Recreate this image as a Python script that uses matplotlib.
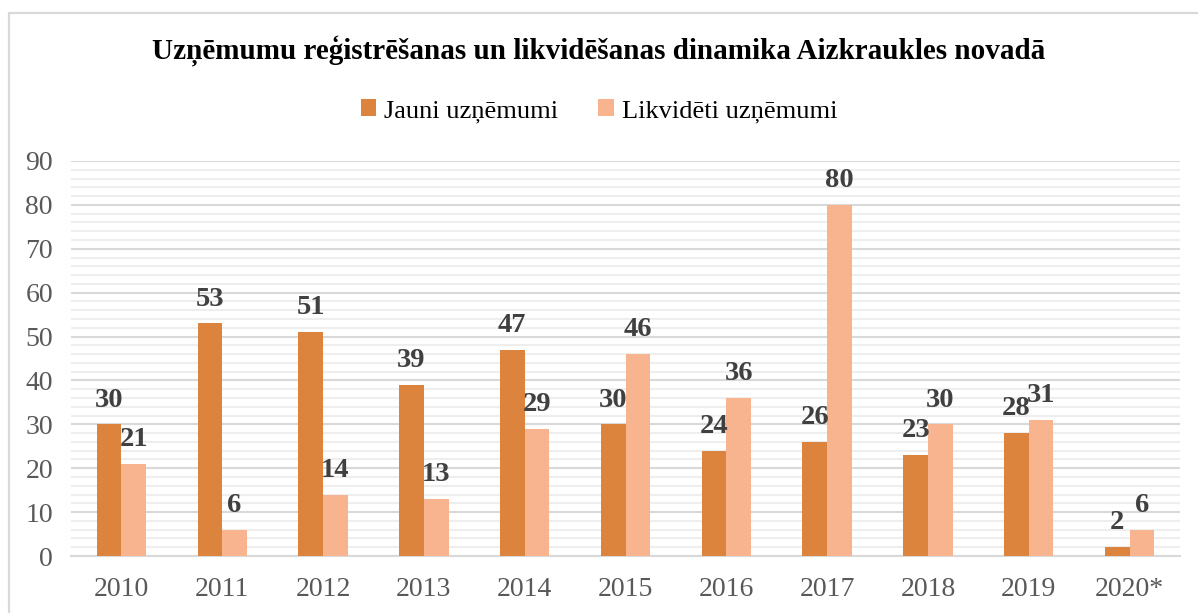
import matplotlib.pyplot as plt
from matplotlib.ticker import MultipleLocator
from matplotlib.patches import Rectangle
import numpy as np

years = ['2010', '2011', '2012', '2013', '2014', '2015', '2016', '2017', '2018', '2019', '2020*']
jauni = [30, 53, 51, 39, 47, 30, 24, 26, 23, 28, 2]
likvideti = [21, 6, 14, 13, 29, 46, 36, 80, 30, 31, 6]

c_dark = '#DC843E'
c_light = '#F8B48E'
txt = '#404040'

plt.rcParams['font.family'] = ['Liberation Serif', 'DejaVu Serif']

fig = plt.figure(figsize=(11.98, 6.13), dpi=100)
# light grey chart-area frame (cut off at the right and bottom edges of the image)
fig.patches.append(Rectangle((9 / 1198, -0.01), 1.02, 1.01 - 13 / 613, transform=fig.transFigure,
                             fill=False, edgecolor='#D9D9D9', linewidth=1.6))
ax = fig.add_axes([71 / 1198, 57 / 613, (1180 - 71) / 1198, (556 - 161) / 613])

x = np.arange(len(years))
w = 0.245
b1 = ax.bar(x - w / 2, jauni, w, color=c_dark, label='Jauni uzņēmumi', zorder=3)
b2 = ax.bar(x + w / 2, likvideti, w, color=c_light, label='Likvidēti uzņēmumi', zorder=3)

# data labels above bars
for bars, vals in ((b1, jauni), (b2, likvideti)):
    for r, v in zip(bars, vals):
        ax.annotate(str(v), (r.get_x() + r.get_width() / 2, v), xytext=(0, 17.5),
                    textcoords='offset points', ha='center', va='center',
                    fontsize=20.5, fontweight='bold', color=txt)

ax.set_xlim(-0.5, len(years) - 0.5)
ax.set_ylim(0, 90)
ax.yaxis.set_major_locator(MultipleLocator(10))
ax.yaxis.set_minor_locator(MultipleLocator(2))
ax.grid(axis='y', which='major', color='#D9D9D9', linewidth=1.5, zorder=0)
ax.grid(axis='y', which='minor', color='#EEEEEE', linewidth=1.5, zorder=0)
ax.set_xticks(x)
ax.set_xticklabels(years)
ax.tick_params(axis='both', which='both', length=0, labelsize=20, labelcolor='#595959')
ax.tick_params(axis='y', pad=13)
ax.tick_params(axis='x', pad=15)
for s in ['top', 'right', 'left']:
    ax.spines[s].set_visible(False)
ax.spines['bottom'].set_color('#D9D9D9')
ax.spines['bottom'].set_linewidth(1.5)

fig.text(0.5, 1 - 51 / 613, 'Uzņēmumu reģistrēšanas un likvidēšanas dinamika Aizkraukles novadā',
         ha='center', va='center', fontsize=21, fontweight='bold', color='black')
fig.legend(loc='center', bbox_to_anchor=(0.5, 1 - 111 / 613), ncol=2, frameon=False,
           fontsize=19, handlelength=0.6, handleheight=0.6, handletextpad=0.3,
           columnspacing=1.5, labelcolor='black')

fig.savefig('out.png', dpi=100)
